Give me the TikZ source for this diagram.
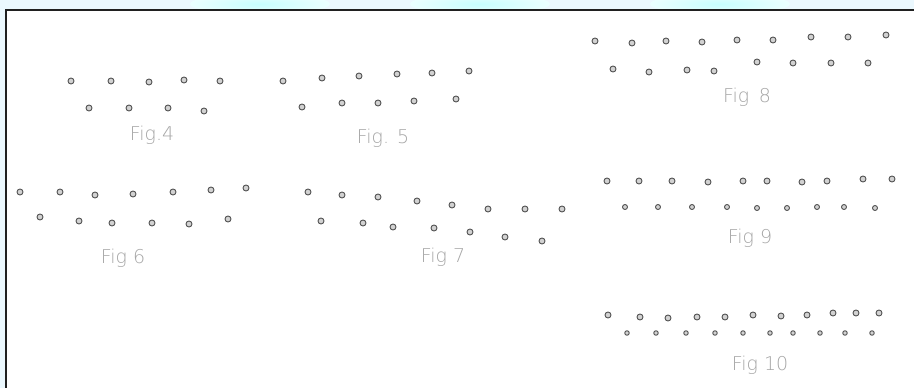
\documentclass[tikz,border=0pt]{standalone}
\usepackage{fontspec}
\newfontfamily\handfont{DejaVu Sans ExtraLight}
\begin{document}
\begin{tikzpicture}[x=1pt, y=-1pt,
    dot/.style={circle, draw=gray!65!black, fill=gray!35, line width=0.9pt,
                inner sep=0pt, minimum width=6pt, minimum height=5.2pt},
    lbl/.style={font=\handfont\fontsize{19}{21}\selectfont, text=gray!70}]

  % scan background
  \useasboundingbox (0,0) rectangle (914,388);
  \fill[cyan!8] (0,0) rectangle (914,388);
  \begin{scope}
    \clip (0,0) rectangle (914,10);
    \foreach \x in {260,480,720}
      \shade[inner color=cyan!22, outer color=cyan!8] (\x,4) ellipse (70pt and 10pt);
  \end{scope}
  \fill[white] (6,10) rectangle (914,388);
  \draw[line width=2.5pt, gray!25!black] (6,388) -- (6,10) -- (914,10);

  % Fig 4
  \foreach \x/\y [count=\i] in {71/81,111/81,149/82,184/80,220/81}
    \node[dot] (f4t\i) at (\x,\y) {};
  \foreach \x/\y [count=\i] in {89/108,129/108,168/108,204/111}
    \node[dot] (f4b\i) at (\x,\y) {};
  \node[lbl] (fig4) at (152,135) {Fig.4};

  % Fig 5
  \foreach \x/\y [count=\i] in {283/81,322/78,359/76,397/74,432/73,469/71}
    \node[dot] (f5t\i) at (\x,\y) {};
  \foreach \x/\y [count=\i] in {302/107,342/103,378/103,414/101,456/99}
    \node[dot] (f5b\i) at (\x,\y) {};
  \node[lbl] (fig5) at (383,138) {Fig. 5};

  % Fig 8
  \foreach \x/\y [count=\i] in {595/41,632/43,666/41,702/42,737/40,773/40,811/37,848/37,886/35}
    \node[dot] (f8t\i) at (\x,\y) {};
  \foreach \x/\y [count=\i] in {613/69,649/72,687/70,714/71,757/62,793/63,831/63,868/63}
    \node[dot] (f8b\i) at (\x,\y) {};
  \node[lbl] (fig8) at (747,97) {Fig\enspace 8};

  % Fig 6
  \foreach \x/\y [count=\i] in {20/192,60/192,95/195,133/194,173/192,211/190,246/188}
    \node[dot] (f6t\i) at (\x,\y) {};
  \foreach \x/\y [count=\i] in {40/217,79/221,112/223,152/223,189/224,228/219}
    \node[dot] (f6b\i) at (\x,\y) {};
  \node[lbl] (fig6) at (123,258) {Fig 6};

  % Fig 7
  \foreach \x/\y [count=\i] in {308/192,342/195,378/197,417/201,452/205,488/209,525/209,562/209}
    \node[dot] (f7t\i) at (\x,\y) {};
  \foreach \x/\y [count=\i] in {321/221,363/223,393/227,434/228,470/232,505/237,542/241}
    \node[dot] (f7b\i) at (\x,\y) {};
  \node[lbl] (fig7) at (443,257) {Fig 7};

  % Fig 9
  \foreach \x/\y [count=\i] in {607/181,639/181,672/181,708/182,743/181,767/181,802/182,827/181,863/179,892/179}
    \node[dot] (f9t\i) at (\x,\y) {};
  \foreach \x/\y [count=\i] in {625/207,658/207,692/207,727/207,757/208,787/208,817/207,844/207,875/208}
    \node[dot, minimum width=5pt, minimum height=4pt] (f9b\i) at (\x,\y) {};
  \node[lbl] (fig9) at (750,238) {Fig 9};

  % Fig 10
  \foreach \x/\y [count=\i] in {608/315,640/317,668/318,697/317,725/317,753/315,781/316,807/315,833/313,856/313,879/313}
    \node[dot] (f10t\i) at (\x,\y) {};
  \foreach \x/\y [count=\i] in {627/333,656/333,686/333,715/333,743/333,770/333,793/333,820/333,845/333,872/333}
    \node[dot, minimum width=4.5pt, minimum height=3.8pt] (f10b\i) at (\x,\y) {};
  \node[lbl] (fig10) at (760,365) {Fig 10};
\end{tikzpicture}
\end{document}
